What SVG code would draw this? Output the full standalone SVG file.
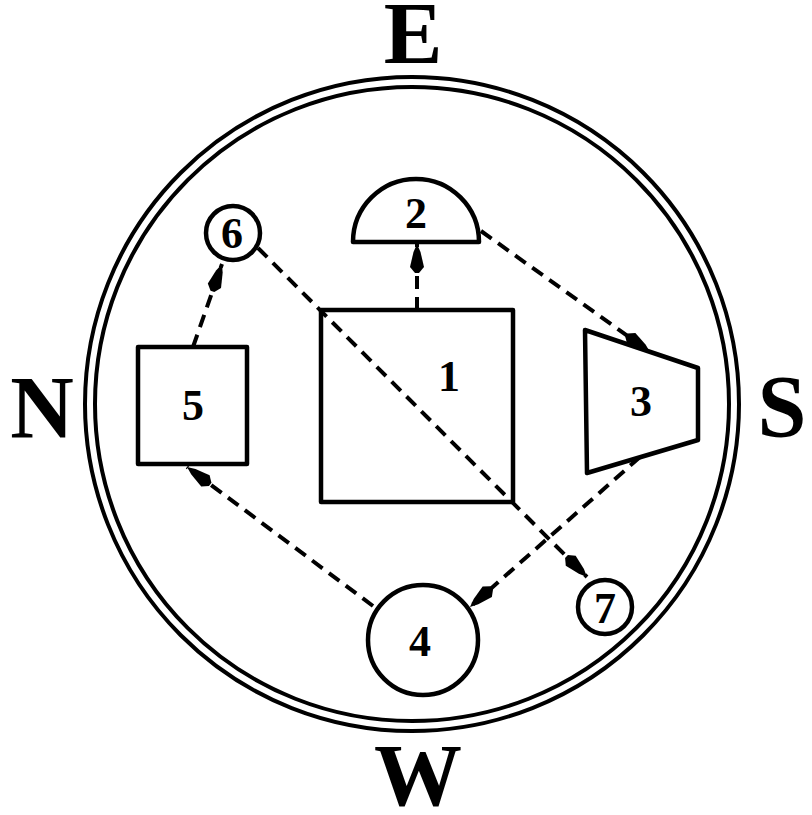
<svg xmlns="http://www.w3.org/2000/svg" width="812" height="815" viewBox="0 0 812 815">
<style>
.shape{fill:#fff;stroke:#000;stroke-width:4.5;stroke-linejoin:round}
.ring{fill:none;stroke:#000;stroke-width:4}
.lbl{font-family:"Liberation Serif","Times New Roman",serif;font-weight:bold;font-size:44px;text-anchor:middle;fill:#000}
.dir{font-family:"Liberation Serif","Times New Roman",serif;font-weight:bold;font-size:88px;text-anchor:middle;fill:#000}
.conn{fill:none;stroke:#000;stroke-width:4;stroke-dasharray:13 8}
</style>
<defs>
<marker id="arr" markerUnits="userSpaceOnUse" markerWidth="36" markerHeight="18" viewBox="-33 -9 36 18" refX="0" refY="0" orient="auto">
<path d="M0,0 L-8,-3.5 L-23,-7 L-29,-2 L-29,2 L-23,7 L-8,3.5 Z" fill="#000"/>
</marker>
</defs>
<rect width="812" height="815" fill="#fff"/>
<g id="compass">
<circle class="ring" cx="412" cy="404" r="327"/>
<circle class="ring" cx="412" cy="404" r="317"/>
<text class="dir" x="413" y="63">E</text>
<text class="dir" x="42" y="437">N</text>
<text class="dir" x="782" y="436">S</text>
<text class="dir" x="418" y="805" font-size="92">W</text>
</g>
<g id="connectors">
<line class="conn" x1="417" y1="310" x2="417" y2="244" marker-end="url(#arr)"/>
<line class="conn" x1="481" y1="231" x2="650" y2="352" marker-end="url(#arr)"/>
<line class="conn" x1="640" y1="457" x2="470" y2="607" marker-end="url(#arr)"/>
<line class="conn" x1="373" y1="606" x2="187" y2="467" marker-end="url(#arr)"/>
<line class="conn" x1="193" y1="347" x2="222" y2="264" marker-end="url(#arr)"/>
<line class="conn" x1="258" y1="248" x2="587" y2="577" marker-end="url(#arr)"/>
</g>
<g id="node1">
<rect class="shape" x="321" y="310" width="192" height="192" fill-opacity="0"/>
<text class="lbl" x="449" y="391">1</text>
</g>
<g id="node2">
<path class="shape" d="M353,242 A63,63 0 0 1 479,242 Z"/>
<text class="lbl" x="416" y="228">2</text>
</g>
<g id="node3">
<path class="shape" d="M585,330 L698,368 L698,440 L587,473 Z"/>
<text class="lbl" x="641" y="416">3</text>
</g>
<g id="node4">
<circle class="shape" cx="423" cy="640" r="55"/>
<text class="lbl" x="420" y="656">4</text>
</g>
<g id="node5">
<rect class="shape" x="138" y="347" width="109" height="117"/>
<text class="lbl" x="193" y="420">5</text>
</g>
<g id="node6">
<circle class="shape" cx="233" cy="233" r="27"/>
<text class="lbl" x="232" y="248">6</text>
</g>
<g id="node7">
<circle class="shape" cx="605" cy="607" r="27"/>
<text class="lbl" x="605" y="623">7</text>
</g>
</svg>
